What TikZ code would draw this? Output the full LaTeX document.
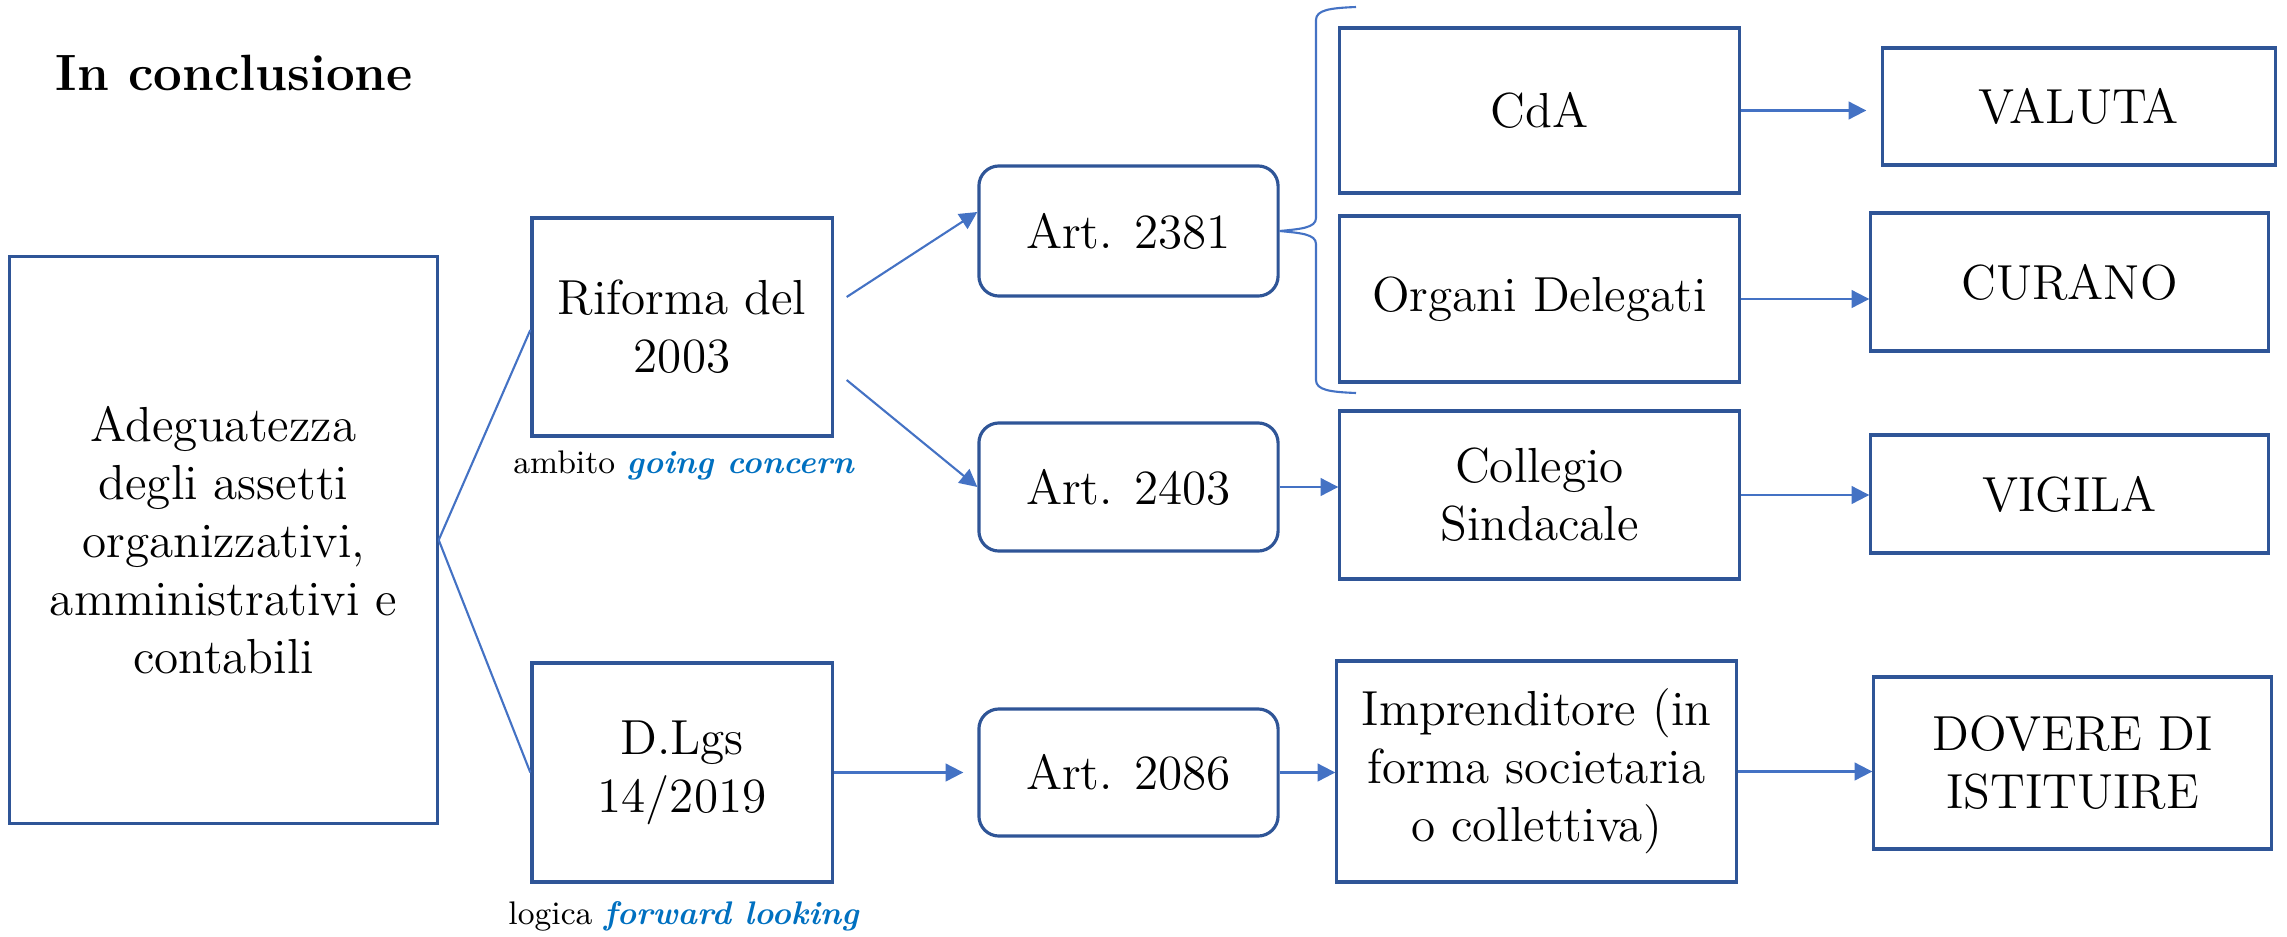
\documentclass[tikz,border=0pt]{standalone}
\usepackage{fontspec}
\usepackage{tikz}
\usetikzlibrary{arrows.meta}
\definecolor{bordo}{HTML}{2F5597}
\definecolor{linea}{HTML}{4472C4}
\definecolor{corsivo}{HTML}{0070C0}
\begin{document}
\begin{tikzpicture}[x=0.01cm,y=-0.01cm]
\tikzset{boite/.style={draw=bordo, line width=0.9pt, rectangle, align=center, inner sep=0pt, font=\fontsize{14}{16.5}\selectfont}}
\tikzset{artnoeud/.style={boite, rounded corners=0.2cm}}
\tikzset{lien/.style={draw=linea, line width=0.6pt}}
\tikzset{fleche/.style={lien, -{Triangle[length=5pt,width=5pt]}}}
\tikzset{note/.style={inner sep=0pt, anchor=base, font=\fontsize{9.3}{11}\selectfont}}
\useasboundingbox (0,0) rectangle (2287,936);
\node[anchor=base west, inner sep=0pt, font=\fontsize{14.5}{17}\selectfont\bfseries] (titre) at (55,90) {In conclusione};
\node[boite, minimum width=4.27cm, minimum height=5.66cm] (adeg) at (223.5,540) {Adeguatezza\\degli assetti\\organizzativi,\\amministrativi e\\contabili};
\node[boite, minimum width=3.00cm, minimum height=2.18cm] (rif) at (682,327) {Riforma del\\2003};
\node[boite, minimum width=3.00cm, minimum height=2.19cm] (dlgs) at (682,772.5) {D.Lgs\\14/2019};
\node[note] (ambito) at (684,473) {ambito \textcolor{corsivo}{\textbf{\textit{going concern}}}};
\node[note] (logica) at (684,924) {logica \textcolor{corsivo}{\textbf{\textit{forward looking}}}};
\node[artnoeud, minimum width=2.99cm, minimum height=1.30cm] (a2381) at (1128.5,231) {Art. 2381};
\node[artnoeud, minimum width=2.99cm, minimum height=1.28cm] (a2403) at (1128.5,487) {Art. 2403};
\node[artnoeud, minimum width=2.99cm, minimum height=1.27cm] (a2086) at (1128.5,772.5) {Art. 2086};
\node[boite, minimum width=3.99cm, minimum height=1.65cm] (cda) at (1539.5,110.5) {CdA};
\node[boite, minimum width=3.99cm, minimum height=1.66cm] (organi) at (1539.5,299) {Organi Delegati};
\node[boite, minimum width=3.99cm, minimum height=1.68cm] (colleg) at (1539.5,495) {Collegio\\Sindacale};
\node[boite, minimum width=3.99cm, minimum height=2.21cm] (impr) at (1536.5,771.5) {Imprenditore (in\\forma societaria\\o collettiva)};
\node[boite, minimum width=3.92cm, minimum height=1.17cm] (valuta) at (2079,106.5) {VALUTA};
\node[boite, minimum width=3.97cm, minimum height=1.38cm] (curano) at (2069.5,282) {CURANO};
\node[boite, minimum width=3.97cm, minimum height=1.18cm] (vigila) at (2069.5,494) {VIGILA};
\node[boite, minimum width=3.97cm, minimum height=1.72cm] (dovere) at (2072.5,763) {DOVERE DI\\ISTITUIRE};
\draw[lien] (adeg.east) -- ([shift={(0,3)}]rif.west);
\draw[lien] (adeg.east) -- (dlgs.west);
\draw[fleche] ([shift={(13,-30)}]rif.east) -- ([shift={(0,-19)}]a2381.west);
\draw[fleche] ([shift={(13,53)}]rif.east) -- (a2403.west);
\draw[fleche, shorten >=0.14cm] (a2086.west -| dlgs.east) -- (a2086.west);
\draw[fleche] (a2403.east) -- (a2403.east -| colleg.west);
\draw[fleche] (a2086.east) -- (a2086.east -| impr.west);
\draw[fleche, shorten >=0.15cm] (cda.east) -- (cda.east -| valuta.west);
\draw[fleche] (organi.east) -- (organi.east -| curano.west);
\draw[fleche] (colleg.east) -- (colleg.east -| vigila.west);
\draw[fleche] (impr.east) -- (impr.east -| dovere.west);
\draw[lien] (a2381.east) .. controls (1300,229) and (1316,228) .. (1316,218) -- (1316,20) .. controls (1316,10) and (1330,8) .. (1356,7);
\draw[lien] (a2381.east) .. controls (1300,233) and (1316,234) .. (1316,244) -- (1316,380) .. controls (1316,390) and (1330,392) .. (1356,393);
\end{tikzpicture}
\end{document}
